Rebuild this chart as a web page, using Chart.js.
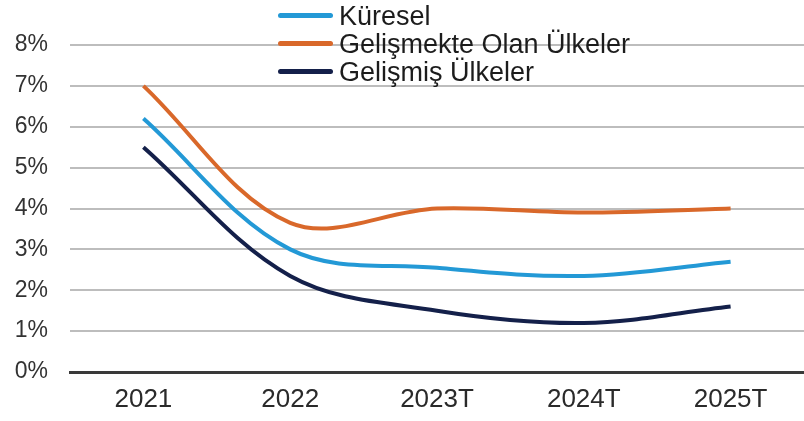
<!DOCTYPE html>
<html>
<head>
<meta charset="utf-8">
<script src="https://cdn.jsdelivr.net/npm/chart.js@4"></script>
<style>
    body { margin: 0; background: #fff; }
    #wrap { position: relative; width: 804px; height: 421px; }
    #legend {
        position: absolute; left: 278px; top: 2px;
        font-family: "Liberation Sans", Arial, sans-serif;
        font-size: 27px; color: #1c1c1c;
    }
    .row { height: 28px; line-height: 28px; white-space: nowrap; }
    .swatch {
        display: inline-block; width: 55px; height: 5px; border-radius: 3px;
        vertical-align: middle; margin-right: 6px; position: relative; top: -2px;
    }
</style>
</head>
<body>
<div id="wrap">
    <canvas id="chart" width="804" height="421"></canvas>
    <div id="legend"></div>
</div>
<script>
// Data for the chart
const years = ["2021", "2022", "2023T", "2024T", "2025T"];
const seriesNames = ["Küresel", "Gelişmekte Olan Ülkeler", "Gelişmiş Ülkeler"];
const kuresel = [6.2, 3.0, 2.55, 2.35, 2.7];
const gelismekte = [7.0, 3.65, 4.0, 3.9, 4.0];
const gelismis = [5.5, 2.35, 1.5, 1.2, 1.6];
const colors = ["#2399d6", "#d9682a", "#14204a"];

const allValues = [kuresel, gelismekte, gelismis];

// Legend drawn as html text over the plot
const legend = document.getElementById("legend");
seriesNames.forEach(function (name, i) {
    const row = document.createElement("div");
    row.className = "row";
    row.innerHTML = '<span class="swatch" style="background:' + colors[i] + '"></span>' + name;
    legend.appendChild(row);
});

const ctx = document.getElementById("chart").getContext("2d");
new Chart(ctx, {
    type: "line",
    data: {
        labels: years,
        datasets: allValues.map(function (vals, i) {
            return {
                label: seriesNames[i],
                data: vals,
                borderColor: colors[i],
                borderWidth: 4,
                pointRadius: 0,
                tension: 0.35,
                fill: false
            };
        })
    },
    options: {
        responsive: false,
        animation: false,
        layout: { padding: { top: 45, right: 0, bottom: 0, left: 0 } },
        plugins: {
            legend: { display: false },
            tooltip: { enabled: false }
        },
        scales: {
            x: {
                offset: true,
                grid: { display: false, drawTicks: false },
                border: { display: true, color: "#3a3a3a", width: 3 },
                ticks: {
                    padding: 12,
                    color: "#2a2a2a",
                    font: { family: "'Liberation Sans', Arial", size: 26 }
                },
                afterFit: function (scale) { scale.height = 49; }
            },
            y: {
                min: 0,
                max: 8,
                grid: { color: "#bdbdbd", lineWidth: 2, drawTicks: false },
                border: { display: false },
                ticks: {
                    stepSize: 1,
                    padding: 22,
                    color: "#333",
                    font: { family: "'Liberation Sans', Arial", size: 23 },
                    callback: function (v) { return v + "%"; }
                },
                afterFit: function (scale) { scale.width = 70; }
            }
        }
    }
});
</script>
</body>
</html>
